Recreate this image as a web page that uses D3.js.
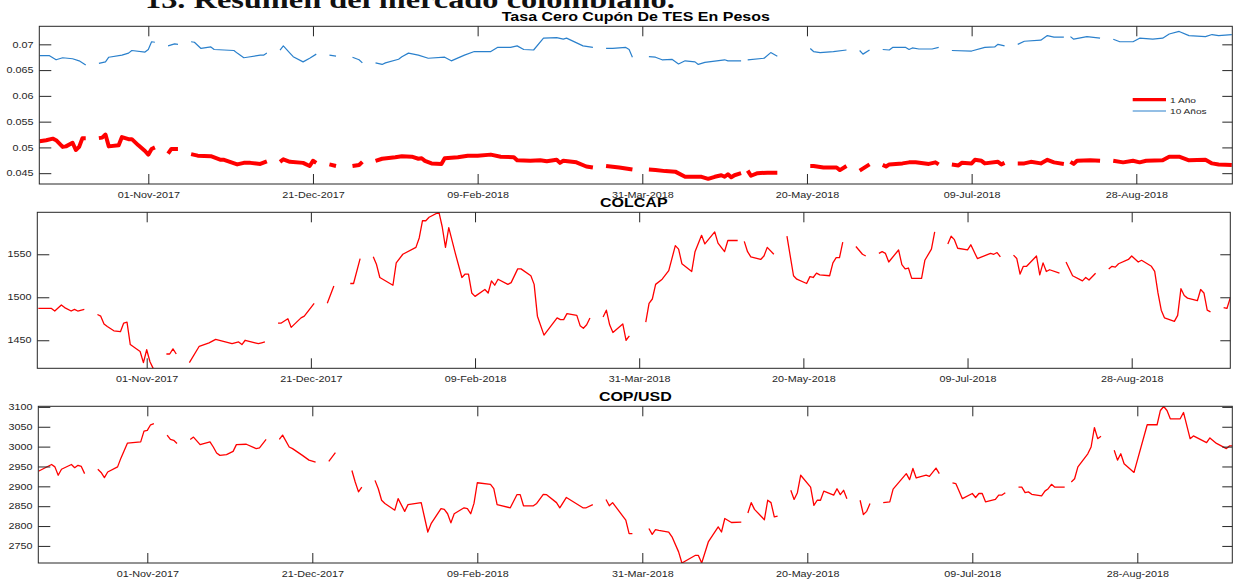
<!DOCTYPE html>
<html><head><meta charset="utf-8">
<script src="https://cdn.jsdelivr.net/npm/d3@7"></script>
<style>html,body{margin:0;padding:0;background:#fff}svg{display:block}</style>
</head><body>
<svg id="chart" width="1233" height="581"></svg>
<script>
// ---------------- data ----------------
const tickDates = ["2017-11-01","2017-12-21","2018-02-09","2018-03-31","2018-05-20","2018-07-09","2018-08-28"];
const tickLabels = ["01-Nov-2017","21-Dec-2017","09-Feb-2018","31-Mar-2018","20-May-2018","09-Jul-2018","28-Aug-2018"];
const tesTicks = [0.045,0.05,0.055,0.06,0.065,0.07];
const tesTickLabels = ["0.045","0.05","0.055","0.06","0.065","0.07"];
const colcapTicks = [1450,1500,1550];
const copTicks = [2750,2800,2850,2900,2950,3000,3050,3100];
const seriesNames = ["1 Año","10 Años"];
const panelTitles = ["Tasa Cero Cupón De TES En Pesos","COLCAP","COP/USD"];
const heading = "13. Resumen del mercado colombiano.";

const tes10 = [["2017-09-29",.0678],["2017-10-02",.0678],["2017-10-04",.0670],["2017-10-06",.0674],["2017-10-09",.0672],["2017-10-11",.0668],["2017-10-13",.0660],["2017-10-16",null],
["2017-10-17",.0663],["2017-10-19",.0666],["2017-10-20",.0675],["2017-10-24",.0679],["2017-10-26",.0683],["2017-10-27",.0688],["2017-10-31",.0685],["2017-11-01",.0690],["2017-11-02",.0705],["2017-11-03",.0704],["2017-11-06",null],
["2017-11-07",.0697],["2017-11-09",.0701],["2017-11-10",.0700],["2017-11-13",null],
["2017-11-14",.0705],["2017-11-15",.0704],["2017-11-17",.0692],["2017-11-20",.0695],["2017-11-21",.0690],["2017-11-27",.0688],["2017-11-28",.0683],["2017-11-30",.0674],["2017-12-01",.0675],["2017-12-05",.0679],["2017-12-06",.0679],["2017-12-07",.0683],["2017-12-08",null],
["2017-12-11",.0689],["2017-12-12",.0697],["2017-12-14",.0683],["2017-12-15",.0676],["2017-12-18",.0666],["2017-12-20",.0673],["2017-12-22",.0681],["2017-12-25",null],
["2017-12-26",.0679],["2017-12-28",.0677],["2018-01-01",null],
["2018-01-02",.0675],["2018-01-04",.0670],["2018-01-05",.0664],["2018-01-08",null],
["2018-01-09",.0664],["2018-01-11",.0661],["2018-01-12",.0664],["2018-01-16",.0671],["2018-01-17",.0676],["2018-01-19",.0683],["2018-01-22",.0679],["2018-01-25",.0673],["2018-01-30",.0675],["2018-02-01",.0668],["2018-02-05",.0679],["2018-02-08",.0686],["2018-02-13",.0686],["2018-02-15",.0694],["2018-02-19",.0694],["2018-02-21",.0697],["2018-02-23",.0690],["2018-02-26",.0689],["2018-03-01",.0712],["2018-03-05",.0713],["2018-03-07",.0710],["2018-03-08",.0712],["2018-03-13",.0697],["2018-03-16",.0694],["2018-03-19",null],
["2018-03-20",.0692],["2018-03-22",.0692],["2018-03-26",.0694],["2018-03-27",.0690],["2018-03-28",.0675],["2018-03-29",null],
["2018-04-02",.0676],["2018-04-04",.0675],["2018-04-06",.0670],["2018-04-09",.0671],["2018-04-11",.0662],["2018-04-13",.0668],["2018-04-16",.0666],["2018-04-17",.0661],["2018-04-19",.0665],["2018-04-25",.0670],["2018-04-26",.0668],["2018-04-30",.0668],["2018-05-01",null],
["2018-05-02",.0670],["2018-05-07",.0673],["2018-05-09",.0684],["2018-05-11",.0677],["2018-05-14",null],
["2018-05-21",.0692],["2018-05-22",.0686],["2018-05-24",.0684],["2018-05-28",.0686],["2018-06-01",.0689],["2018-06-04",null],
["2018-06-05",.0688],["2018-06-06",.0681],["2018-06-08",.0689],["2018-06-11",null],
["2018-06-12",.0690],["2018-06-14",.0689],["2018-06-15",.0694],["2018-06-19",.0694],["2018-06-20",.0690],["2018-06-21",.0693],["2018-06-23",.0691],["2018-06-27",.0691],["2018-06-29",.0694],["2018-07-02",null],
["2018-07-03",.0688],["2018-07-09",.0687],["2018-07-13",.0694],["2018-07-16",.0695],["2018-07-17",.0700],["2018-07-19",.0697],["2018-07-20",null],
["2018-07-23",.0700],["2018-07-25",.0706],["2018-07-30",.0708],["2018-08-01",.0717],["2018-08-03",.0714],["2018-08-06",.0714],["2018-08-07",null],
["2018-08-08",.0715],["2018-08-09",.0710],["2018-08-13",.0715],["2018-08-17",.0712],["2018-08-20",null],
["2018-08-21",.0710],["2018-08-23",.0705],["2018-08-27",.0705],["2018-08-29",.0712],["2018-09-02",.0710],["2018-09-05",.0712],["2018-09-07",.0720],["2018-09-10",.0725],["2018-09-13",.0717],["2018-09-18",.0715],["2018-09-20",.0719],["2018-09-22",.0717],["2018-09-26",.0719]];

const tes1 = [["2017-09-29",.0512],["2017-10-01",.0514],["2017-10-03",.0517],["2017-10-04",.0514],["2017-10-06",.0501],["2017-10-07",.0502],["2017-10-09",.0509],["2017-10-10",.0495],["2017-10-11",.0501],["2017-10-12",.0518],["2017-10-13",.0518],["2017-10-16",null],
["2017-10-17",.0518],["2017-10-18",.0519],["2017-10-19",.0525],["2017-10-20",.0502],["2017-10-23",.0504],["2017-10-24",.0520],["2017-10-26",.0516],["2017-10-27",.0516],["2017-10-29",.0504],["2017-10-31",.0493],["2017-11-01",.0486],["2017-11-02",.0497],["2017-11-03",.0500],["2017-11-06",null],
["2017-11-07",.0488],["2017-11-08",.0497],["2017-11-10",.0497],["2017-11-13",null],
["2017-11-14",.0487],["2017-11-16",.0484],["2017-11-20",.0483],["2017-11-23",.0476],["2017-11-24",.0476],["2017-11-28",.0467],["2017-11-30",.0470],["2017-12-02",.0470],["2017-12-05",.0468],["2017-12-07",.0473],["2017-12-08",null],
["2017-12-11",.0472],["2017-12-12",.0477],["2017-12-14",.0472],["2017-12-18",.0470],["2017-12-20",.0464],["2017-12-21",.0474],["2017-12-22",.0470],["2017-12-25",null],
["2017-12-26",.0467],["2017-12-28",.0464],["2018-01-01",null],
["2018-01-02",.0464],["2018-01-04",.0466],["2018-01-05",.0472],["2018-01-08",null],
["2018-01-09",.0474],["2018-01-11",.0478],["2018-01-15",.0481],["2018-01-17",.0483],["2018-01-20",.0482],["2018-01-22",.0478],["2018-01-23",.0479],["2018-01-24",.0474],["2018-01-26",.0469],["2018-01-29",.0468],["2018-01-30",.0479],["2018-02-03",.0481],["2018-02-06",.0484],["2018-02-09",.0484],["2018-02-13",.0486],["2018-02-16",.0482],["2018-02-20",.0481],["2018-02-21",.0475],["2018-02-25",.0474],["2018-02-28",.0475],["2018-03-02",.0473],["2018-03-05",.0476],["2018-03-06",.0470],["2018-03-07",.0474],["2018-03-11",.0471],["2018-03-14",.0463],["2018-03-16",.0461],["2018-03-19",null],
["2018-03-20",.0464],["2018-03-24",.0461],["2018-03-28",.0457],["2018-03-29",null],
["2018-04-02",.0457],["2018-04-04",.0456],["2018-04-07",.0454],["2018-04-10",.0453],["2018-04-13",.0443],["2018-04-18",.0443],["2018-04-20",.0439],["2018-04-22",.0443],["2018-04-24",.0446],["2018-04-25",.0443],["2018-04-26",.0448],["2018-04-27",.0442],["2018-04-28",.0446],["2018-04-30",.0450],["2018-05-01",null],
["2018-05-02",.0455],["2018-05-03",.0445],["2018-05-05",.0450],["2018-05-08",.0451],["2018-05-11",.0451],["2018-05-14",null],
["2018-05-21",.0464],["2018-05-22",.0464],["2018-05-25",.0461],["2018-05-29",.0461],["2018-05-30",.0456],["2018-06-01",.0464],["2018-06-04",null],
["2018-06-05",.0455],["2018-06-08",.0467],["2018-06-11",null],
["2018-06-12",.0466],["2018-06-13",.0463],["2018-06-14",.0467],["2018-06-18",.0469],["2018-06-20",.0471],["2018-06-22",.0471],["2018-06-26",.0468],["2018-06-28",.0471],["2018-06-29",.0467],["2018-07-02",null],
["2018-07-03",.0467],["2018-07-05",.0465],["2018-07-06",.0470],["2018-07-09",.0469],["2018-07-10",.0476],["2018-07-12",.0474],["2018-07-13",.0469],["2018-07-17",.0472],["2018-07-18",.0467],["2018-07-19",.0470],["2018-07-20",null],
["2018-07-23",.0469],["2018-07-25",.0469],["2018-07-27",.0472],["2018-07-30",.0469],["2018-08-01",.0476],["2018-08-03",.0471],["2018-08-06",.0468],["2018-08-07",null],
["2018-08-08",.0472],["2018-08-09",.0468],["2018-08-10",.0474],["2018-08-14",.0475],["2018-08-17",.0474],["2018-08-20",null],
["2018-08-21",.0474],["2018-08-24",.0471],["2018-08-27",.0474],["2018-08-29",.0471],["2018-08-31",.0474],["2018-09-05",.0475],["2018-09-07",.0482],["2018-09-10",.0482],["2018-09-13",.0475],["2018-09-18",.0476],["2018-09-20",.0469],["2018-09-22",.0467],["2018-09-26",.0466]];

const colcap = [["2017-09-29",1487],["2017-10-03",1487],["2017-10-04",1484],["2017-10-06",1491],["2017-10-07",1488],["2017-10-09",1484],["2017-10-10",1486],["2017-10-11",1484],["2017-10-13",1486],["2017-10-16",null],
["2017-10-17",1480],["2017-10-18",1478],["2017-10-19",1469],["2017-10-20",1466],["2017-10-22",1461],["2017-10-24",1460],["2017-10-25",1470],["2017-10-26",1471],["2017-10-27",1445],["2017-10-30",1437],["2017-10-31",1424],["2017-11-01",1439],["2017-11-02",1425],["2017-11-03",1417],["2017-11-06",null],
["2017-11-07",1434],["2017-11-08",1434],["2017-11-09",1440],["2017-11-10",1434],["2017-11-13",null],
["2017-11-14",1424],["2017-11-17",1443],["2017-11-20",1447],["2017-11-22",1451],["2017-11-27",1446],["2017-11-29",1448],["2017-11-30",1445],["2017-12-01",1450],["2017-12-04",1447],["2017-12-05",1446],["2017-12-06",1447],["2017-12-07",1448],["2017-12-08",null],
["2017-12-11",1470],["2017-12-12",1470],["2017-12-14",1475],["2017-12-15",1465],["2017-12-18",1476],["2017-12-19",1478],["2017-12-22",1493],["2017-12-25",null],
["2017-12-26",1493],["2017-12-28",1513],["2018-01-01",null],
["2018-01-02",1516],["2018-01-03",1516],["2018-01-05",1545],["2018-01-08",null],
["2018-01-09",1547],["2018-01-10",1538],["2018-01-11",1523],["2018-01-15",1514],["2018-01-16",1540],["2018-01-18",1550],["2018-01-22",1558],["2018-01-23",1569],["2018-01-24",1589],["2018-01-25",1589],["2018-01-26",1593],["2018-01-29",1599],["2018-01-30",1582],["2018-01-31",1558],["2018-02-01",1581],["2018-02-03",1551],["2018-02-05",1523],["2018-02-06",1527],["2018-02-07",1527],["2018-02-08",1505],["2018-02-09",1501],["2018-02-12",1509],["2018-02-13",1505],["2018-02-14",1519],["2018-02-15",1514],["2018-02-16",1521],["2018-02-19",1515],["2018-02-20",1517],["2018-02-22",1533],["2018-02-23",1533],["2018-02-26",1525],["2018-02-27",1515],["2018-02-28",1478],["2018-03-02",1456],["2018-03-06",1476],["2018-03-07",1474],["2018-03-08",1474],["2018-03-09",1481],["2018-03-12",1479],["2018-03-13",1467],["2018-03-14",1464],["2018-03-15",1468],["2018-03-16",1476],["2018-03-19",null],
["2018-03-20",1477],["2018-03-21",1485],["2018-03-22",1468],["2018-03-23",1459],["2018-03-26",1469],["2018-03-27",1450],["2018-03-28",1455],["2018-03-29",null],
["2018-04-02",1471],["2018-04-03",1493],["2018-04-04",1498],["2018-04-05",1515],["2018-04-07",1521],["2018-04-09",1531],["2018-04-11",1560],["2018-04-12",1556],["2018-04-13",1539],["2018-04-16",1530],["2018-04-17",1553],["2018-04-19",1572],["2018-04-20",1562],["2018-04-23",1576],["2018-04-24",1563],["2018-04-26",1553],["2018-04-27",1566],["2018-04-30",1566],["2018-05-01",null],
["2018-05-02",1565],["2018-05-03",1553],["2018-05-04",1547],["2018-05-07",1544],["2018-05-08",1548],["2018-05-09",1558],["2018-05-11",1550],["2018-05-14",null],
["2018-05-15",1571],["2018-05-17",1525],["2018-05-18",1521],["2018-05-21",1516],["2018-05-22",1524],["2018-05-23",1523],["2018-05-24",1528],["2018-05-25",1526],["2018-05-28",1525],["2018-05-29",1540],["2018-05-30",1546],["2018-05-31",1546],["2018-06-01",1564],["2018-06-04",null],
["2018-06-05",1559],["2018-06-07",1550],["2018-06-08",1548],["2018-06-11",null],
["2018-06-12",1551],["2018-06-13",1553],["2018-06-14",1551],["2018-06-15",1541],["2018-06-18",1555],["2018-06-19",1538],["2018-06-20",1533],["2018-06-21",1534],["2018-06-22",1522],["2018-06-25",1522],["2018-06-26",1543],["2018-06-28",1556],["2018-06-29",1576],["2018-07-02",null],
["2018-07-03",1562],["2018-07-04",1571],["2018-07-05",1567],["2018-07-06",1557],["2018-07-09",1555],["2018-07-10",1561],["2018-07-12",1545],["2018-07-16",1551],["2018-07-17",1550],["2018-07-18",1552],["2018-07-19",1547],["2018-07-20",null],
["2018-07-23",1549],["2018-07-24",1545],["2018-07-25",1527],["2018-07-26",1536],["2018-07-27",1536],["2018-07-30",1548],["2018-07-31",1526],["2018-08-01",1540],["2018-08-02",1530],["2018-08-03",1532],["2018-08-06",1528],["2018-08-07",null],
["2018-08-08",1541],["2018-08-10",1525],["2018-08-13",1519],["2018-08-14",1523],["2018-08-15",1520],["2018-08-17",1528],["2018-08-20",null],
["2018-08-21",1533],["2018-08-22",1536],["2018-08-23",1535],["2018-08-24",1539],["2018-08-27",1544],["2018-08-28",1548],["2018-08-30",1541],["2018-08-31",1543],["2018-09-03",1536],["2018-09-04",1530],["2018-09-05",1505],["2018-09-06",1485],["2018-09-07",1476],["2018-09-10",1472],["2018-09-11",1479],["2018-09-12",1510],["2018-09-13",1502],["2018-09-14",1499],["2018-09-17",1496],["2018-09-18",1509],["2018-09-19",1505],["2018-09-20",1485],["2018-09-21",1483],["2018-09-24",null],
["2018-09-25",1488],["2018-09-26",1487],["2018-09-27",1499]];

const copusd = [["2017-09-29",2938],["2017-10-03",2955],["2017-10-04",2949],["2017-10-05",2928],["2017-10-06",2943],["2017-10-09",2955],["2017-10-10",2947],["2017-10-11",2953],["2017-10-12",2950],["2017-10-13",2932],["2017-10-16",null],
["2017-10-17",2943],["2017-10-18",2935],["2017-10-19",2922],["2017-10-20",2936],["2017-10-23",2949],["2017-10-24",2971],["2017-10-26",3009],["2017-10-30",3012],["2017-10-31",3039],["2017-11-01",3041],["2017-11-02",3055],["2017-11-03",3058],["2017-11-06",null],
["2017-11-07",3029],["2017-11-08",3018],["2017-11-09",3016],["2017-11-10",3008],["2017-11-13",null],
["2017-11-14",3018],["2017-11-15",3024],["2017-11-17",3005],["2017-11-20",3012],["2017-11-21",2999],["2017-11-22",2984],["2017-11-23",2978],["2017-11-25",2980],["2017-11-27",2988],["2017-11-28",3005],["2017-12-01",3006],["2017-12-04",2995],["2017-12-05",2997],["2017-12-07",3018],["2017-12-08",null],
["2017-12-11",3018],["2017-12-12",3029],["2017-12-14",2999],["2017-12-15",2995],["2017-12-18",2978],["2017-12-20",2966],["2017-12-22",2961],["2017-12-25",null],
["2017-12-26",2963],["2017-12-28",2985],["2018-01-01",null],
["2018-01-02",2940],["2018-01-03",2911],["2018-01-04",2886],["2018-01-05",2898],["2018-01-08",null],
["2018-01-09",2915],["2018-01-10",2894],["2018-01-11",2865],["2018-01-12",2857],["2018-01-15",2840],["2018-01-16",2869],["2018-01-18",2837],["2018-01-19",2854],["2018-01-23",2859],["2018-01-25",2785],["2018-01-26",2806],["2018-01-29",2844],["2018-01-30",2842],["2018-01-31",2831],["2018-02-01",2808],["2018-02-02",2831],["2018-02-05",2846],["2018-02-06",2844],["2018-02-07",2831],["2018-02-08",2857],["2018-02-09",2909],["2018-02-13",2905],["2018-02-14",2894],["2018-02-15",2854],["2018-02-19",2846],["2018-02-21",2879],["2018-02-22",2879],["2018-02-23",2851],["2018-02-26",2851],["2018-02-27",2857],["2018-03-01",2880],["2018-03-02",2879],["2018-03-05",2859],["2018-03-06",2846],["2018-03-08",2872],["2018-03-13",2846],["2018-03-14",2846],["2018-03-16",2854],["2018-03-19",null],
["2018-03-20",2867],["2018-03-21",2851],["2018-03-22",2859],["2018-03-26",2815],["2018-03-27",2781],["2018-03-28",2781],["2018-03-29",null],
["2018-04-02",2794],["2018-04-03",2779],["2018-04-04",2791],["2018-04-05",2789],["2018-04-08",2785],["2018-04-09",2773],["2018-04-11",2735],["2018-04-12",2707],["2018-04-16",2726],["2018-04-17",2726],["2018-04-18",2707],["2018-04-20",2760],["2018-04-23",2798],["2018-04-24",2785],["2018-04-25",2819],["2018-04-27",2809],["2018-04-30",2810],["2018-05-01",null],
["2018-05-02",2833],["2018-05-03",2859],["2018-05-04",2842],["2018-05-07",2816],["2018-05-08",2865],["2018-05-09",2859],["2018-05-10",2823],["2018-05-11",2825],["2018-05-14",null],
["2018-05-15",2890],["2018-05-16",2867],["2018-05-17",2884],["2018-05-18",2928],["2018-05-21",2898],["2018-05-22",2852],["2018-05-23",2865],["2018-05-24",2865],["2018-05-25",2888],["2018-05-28",2878],["2018-05-29",2894],["2018-05-30",2879],["2018-05-31",2890],["2018-06-01",2869],["2018-06-04",null],
["2018-06-05",2865],["2018-06-06",2829],["2018-06-07",2837],["2018-06-08",2857],["2018-06-11",null],
["2018-06-12",2859],["2018-06-14",2861],["2018-06-15",2893],["2018-06-19",2932],["2018-06-20",2917],["2018-06-21",2945],["2018-06-22",2921],["2018-06-25",2928],["2018-06-26",2925],["2018-06-28",2946],["2018-06-29",2932],["2018-07-02",null],
["2018-07-03",2909],["2018-07-04",2907],["2018-07-06",2869],["2018-07-09",2882],["2018-07-10",2872],["2018-07-11",2882],["2018-07-12",2882],["2018-07-13",2861],["2018-07-16",2867],["2018-07-17",2878],["2018-07-18",2878],["2018-07-19",2884],["2018-07-20",null],
["2018-07-23",2898],["2018-07-24",2898],["2018-07-25",2884],["2018-07-26",2886],["2018-07-27",2880],["2018-07-30",2876],["2018-07-31",2888],["2018-08-01",2894],["2018-08-02",2905],["2018-08-03",2898],["2018-08-06",2898],["2018-08-07",null],
["2018-08-08",2911],["2018-08-09",2919],["2018-08-10",2949],["2018-08-13",2982],["2018-08-14",2999],["2018-08-15",3048],["2018-08-16",3020],["2018-08-17",3026],["2018-08-20",null],
["2018-08-21",2991],["2018-08-22",2966],["2018-08-23",2982],["2018-08-24",2957],["2018-08-27",2935],["2018-08-31",3055],["2018-09-03",3055],["2018-09-04",3091],["2018-09-05",3101],["2018-09-06",3091],["2018-09-07",3070],["2018-09-10",3070],["2018-09-11",3086],["2018-09-13",3020],["2018-09-14",3027],["2018-09-18",3010],["2018-09-19",3022],["2018-09-21",3008],["2018-09-24",2995],["2018-09-25",3002],["2018-09-26",3002]];

// ---------------- drawing ----------------
const parse = d3.utcParse("%Y-%m-%d");
const SX = 1.27;            // reference is stretched horizontally
const FONT = "'Liberation Sans', Arial, Helvetica, sans-serif";
const INK = "#262626";
const svg = d3.select("#chart");

svg.append("text")
  .attr("transform", "translate(145,7.5) scale(" + SX + ",1)")
  .attr("font-family", "'Liberation Serif','Times New Roman',serif")
  .attr("font-weight", "bold").attr("font-size", 25.5).attr("fill", "#111")
  .text(heading);

const panels = [
  {left:39.3, right:1232.3, top:26.3, bottom:184, xa:148.3, xb:1136.3, yDomain:[0.0429,0.0735],
   yTicks:tesTicks, yFmt:(d,i)=>tesTickLabels[i], titleY:20.7,
   series:[{data:tes10,color:"#2a80cc",width:1.2},{data:tes1,color:"#ff0000",width:4}]},
  {left:37.3, right:1230.3, top:212.3, bottom:368.3, xa:146.7, xb:1131.7, yDomain:[1417.4,1598.8],
   yTicks:colcapTicks, yFmt:d=>String(d), titleY:207.3,
   series:[{data:colcap,color:"#ff0000",width:1.3}]},
  {left:38.3, right:1232.3, top:406.3, bottom:563, xa:147.3, xb:1137.3, yDomain:[2707,3101.5],
   yTicks:copTicks, yFmt:d=>String(d), titleY:401,
   series:[{data:copusd,color:"#ff0000",width:1.3}]}
];

const tickDatesP = tickDates.map(parse);

panels.forEach((p, i) => {
  const x = d3.scaleUtc().domain([parse("2017-11-01"), parse("2018-08-28")]).range([p.xa, p.xb]);
  const y = d3.scaleLinear().domain(p.yDomain).range([p.bottom, p.top]);
  const g = svg.append("g");
  const cid = "clip" + i;
  svg.append("clipPath").attr("id", cid).append("rect")
    .attr("x", p.left).attr("y", p.top).attr("width", p.right - p.left).attr("height", p.bottom - p.top);

  const line = d3.line().defined(d => d[1] != null).x(d => x(parse(d[0]))).y(d => y(d[1]));
  p.series.forEach(s => {
    g.append("path").attr("clip-path", "url(#" + cid + ")")
      .attr("d", line(s.data)).attr("fill", "none")
      .attr("stroke", s.color).attr("stroke-width", s.width)
      .attr("stroke-linejoin", "round").attr("stroke-linecap", "butt");
  });

  const styleAxis = a => {
    a.select(".domain").remove();
    a.attr("font-family", FONT).attr("font-size", 8.5);
    a.selectAll("line").attr("stroke", INK).attr("stroke-width", 1);
    a.selectAll("text").attr("fill", INK).attr("transform", "scale(" + SX + ",1)");
  };

  g.append("g").attr("transform", "translate(0," + p.bottom + ")")
    .call(d3.axisBottom(x).tickValues(tickDatesP).tickFormat((d, k) => tickLabels[k])
      .tickSizeInner(-10).tickSizeOuter(0).tickPadding(7.5)).call(styleAxis);
  g.append("g").attr("transform", "translate(0," + p.top + ")")
    .call(d3.axisTop(x).tickValues(tickDatesP).tickFormat("")
      .tickSizeInner(-10).tickSizeOuter(0)).call(styleAxis);
  g.append("g").attr("transform", "translate(" + p.left + ",0)")
    .call(d3.axisLeft(y).tickValues(p.yTicks).tickFormat(p.yFmt)
      .tickSizeInner(-12).tickSizeOuter(0).tickPadding(4.6)).call(styleAxis);
  g.append("g").attr("transform", "translate(" + p.right + ",0)")
    .call(d3.axisRight(y).tickValues(p.yTicks).tickFormat("")
      .tickSizeInner(-10).tickSizeOuter(0)).call(styleAxis);

  g.append("rect").attr("x", p.left).attr("y", p.top)
    .attr("width", p.right - p.left).attr("height", p.bottom - p.top)
    .attr("fill", "none").attr("stroke", INK).attr("stroke-width", 1);

  g.append("text")
    .attr("transform", "translate(" + ((p.left + p.right) / 2) + "," + p.titleY + ") scale(" + SX + ",1)")
    .attr("text-anchor", "middle").attr("font-family", FONT).attr("font-weight", "bold")
    .attr("font-size", 12.6).attr("fill", "#000").text(panelTitles[i]);

  if (i === 0) {
    const leg = g.append("g").attr("font-family", FONT).attr("font-size", 8).attr("fill", INK);
    const items = [{c:"#ff0000", w:3.2, yy:99.7}, {c:"#2a80cc", w:1.2, yy:111}];
    items.forEach((it, k) => {
      leg.append("line").attr("x1", 1132.7).attr("x2", 1166).attr("y1", it.yy).attr("y2", it.yy)
        .attr("stroke", it.c).attr("stroke-width", it.w);
      leg.append("text").attr("transform", "translate(1170," + (it.yy + 2.9) + ") scale(" + SX + ",1)")
        .text(seriesNames[k]);
    });
  }
});
</script>
</body></html>
